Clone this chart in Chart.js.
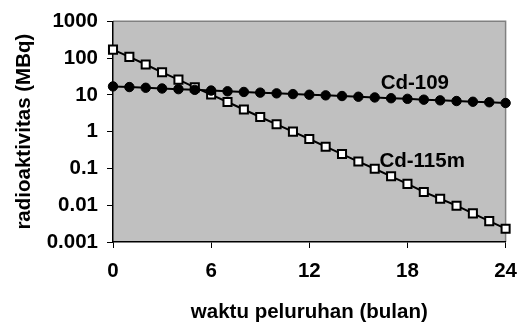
<!DOCTYPE html>
<html><head><meta charset="utf-8">
<script src="https://cdn.jsdelivr.net/npm/chart.js@4/dist/chart.umd.min.js"></script>
<style>html,body{margin:0;padding:0;background:#fff}</style>
</head><body>
<canvas id="c" width="528" height="326"></canvas>
<script>
// months of decay
const months = [0,1,2,3,4,5,6,7,8,9,10,11,12,13,14,15,16,17,18,19,20,21,22,23,24];
// Cd-109 activity (MBq)
const cd109 = [17.0,16.3,15.6,14.9,14.3,13.7,13.1,12.5,12.0,11.5,11.0,10.5,10.1,9.7,9.3,8.9,8.5,8.1,7.8,7.4,7.1,6.8,6.5,6.3,6.0];
// Cd-115m activity (MBq)
const cd115m = [170,108,67,41,26,16,10.2,6.4,4.0,2.5,1.58,1.0,0.63,0.39,0.246,0.154,0.098,0.061,0.038,0.023,0.015,0.0097,0.006,0.0037,0.0023];
const xTicks = [0,6,12,18,24];
const yTicks = [0.001,0.01,0.1,1,10,100,1000];
const yTickLabels = ['0.001','0.01','0.1','1','10','100','1000'];
const seriesNames = ['Cd-109','Cd-115m'];
const nameX = [18.45,18.9];
const nameY = [21,0.154];

const FONT = "'Liberation Sans', Arial, sans-serif";
const FS = 20.5;
Chart.defaults.font.family = FONT;
Chart.defaults.font.weight = 'bold';
Chart.defaults.font.size = FS;
Chart.defaults.color = '#000';

const bgPlugin = {
  id: 'bg',
  beforeDraw(chart) {
    const {ctx, chartArea: a} = chart;
    ctx.save();
    ctx.fillStyle = '#C0C0C0';
    ctx.fillRect(a.left, a.top, a.right - a.left, a.bottom - a.top);
    ctx.strokeStyle = '#808080';
    ctx.lineWidth = 1.5;
    ctx.beginPath();
    ctx.moveTo(a.left, a.top); ctx.lineTo(a.right, a.top); ctx.lineTo(a.right, a.bottom);
    ctx.stroke();
    ctx.restore();
  }
};
const namePlugin = {
  id: 'names',
  afterDatasetsDraw(chart) {
    const {ctx, scales} = chart;
    ctx.save();
    ctx.font = 'bold ' + FS + 'px ' + FONT;
    ctx.fillStyle = '#000';
    ctx.textAlign = 'center';
    ctx.textBaseline = 'middle';
    seriesNames.forEach((n, i) => {
      ctx.fillText(n, scales.x.getPixelForValue(nameX[i]), scales.y.getPixelForValue(nameY[i]));
    });
    ctx.restore();
  }
};

new Chart(document.getElementById('c'), {
  type: 'line',
  data: {
    datasets: [
      {
        label: seriesNames[0],
        data: months.map((m, i) => ({x: m, y: cd109[i]})),
        borderColor: '#000', borderWidth: 2,
        pointStyle: 'circle', pointRadius: 4.7,
        pointBackgroundColor: '#000', pointBorderColor: '#000', pointBorderWidth: 1,
        clip: false
      },
      {
        label: seriesNames[1],
        data: months.map((m, i) => ({x: m, y: cd115m[i]})),
        borderColor: '#000', borderWidth: 2,
        pointStyle: 'rect', pointRadius: 5.7,
        pointBackgroundColor: '#fff', pointBorderColor: '#000', pointBorderWidth: 2,
        clip: false
      }
    ]
  },
  options: {
    responsive: false,
    animation: false,
    layout: {padding: {left: 0, right: 16, top: 17, bottom: 0}},
    plugins: {legend: {display: false}, tooltip: {enabled: false}},
    scales: {
      x: {
        type: 'linear', min: 0, max: 24,
        afterBuildTicks(s) { s.ticks = xTicks.map(v => ({value: v})); },
        afterFit(s) { s.height = 84; },
        ticks: {padding: 11, maxRotation: 0, font: {size: FS, weight: 'bold'}},
        grid: {drawOnChartArea: false, drawTicks: true, tickLength: 6, color: '#000', lineWidth: 1},
        border: {display: true, color: '#000', width: 1.5},
        title: {display: true, text: 'waktu peluruhan (bulan)', font: {size: FS, weight: 'bold'}, padding: {top: 6, bottom: 1}}
      },
      y: {
        type: 'logarithmic', min: 0.001, max: 1000,
        afterBuildTicks(s) { s.ticks = yTicks.map(v => ({value: v})); },
        afterFit(s) { s.width = 113; },
        ticks: {padding: 9, callback: (v) => yTickLabels[yTicks.indexOf(v)] ?? '', font: {size: FS, weight: 'bold'}},
        grid: {drawOnChartArea: false, drawTicks: true, tickLength: 6, color: '#000', lineWidth: 1},
        border: {display: true, color: '#000', width: 1.5},
        title: {display: true, text: 'radioaktivitas (MBq)', font: {size: FS, weight: 'bold'}, padding: {top: 12, bottom: 4}}
      }
    }
  },
  plugins: [bgPlugin, namePlugin]
});
</script>
</body></html>
